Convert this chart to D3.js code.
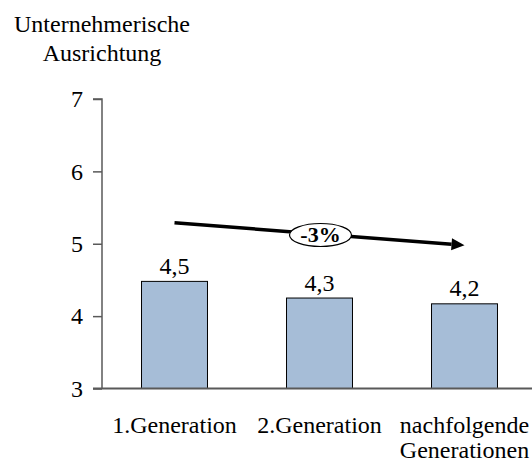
<!DOCTYPE html>
<html>
<head>
<meta charset="utf-8">
<script src="https://cdn.jsdelivr.net/npm/d3@7"></script>
<style>
  html, body { margin: 0; padding: 0; background: #fff; }
  svg { display: block; }
</style>
</head>
<body>
<svg id="chart" width="532" height="462"></svg>
<script>
// ---- data ----
const categories = [["1.Generation"], ["2.Generation"], ["nachfolgende", "Generationen"]];
const values = [4.48, 4.25, 4.17];
const valueLabels = ["4,5", "4,3", "4,2"];
const yTicks = [3, 4, 5, 6, 7];
const yTitle = ["Unternehmerische", "Ausrichtung"];
const trendLabel = "-3%";
const trendFrom = { cat: 0, value: 5.29 };
const trendTo = { cat: 2, value: 4.98 };

const FONT = "Liberation Serif";

// ---- chart ----
const svg = d3.select("#chart");
const x = d3.scaleBand().domain(d3.range(categories.length)).range([102, 537])
  .paddingInner(0.545).paddingOuter(0.2725);
const y = d3.scaleLinear().domain([3, 7]).range([388.5, 99]);

// bars
svg.append("g").selectAll("rect").data(values).join("rect")
  .attr("x", (d, i) => x(i))
  .attr("y", d => y(d))
  .attr("width", x.bandwidth())
  .attr("height", d => y(3) - y(d))
  .attr("fill", "#a6bdd7")
  .attr("stroke", "#000")
  .attr("stroke-width", 1);

// value labels
svg.append("g").selectAll("text").data(values).join("text")
  .attr("x", (d, i) => x(i) + x.bandwidth() / 2)
  .attr("y", d => y(d) - 7.5)
  .attr("text-anchor", "middle")
  .attr("font-family", FONT)
  .attr("font-size", 24)
  .attr("fill", "#000")
  .text((d, i) => valueLabels[i]);

// y axis
const yAxis = d3.axisLeft(y).tickValues(yTicks).tickSize(9).tickPadding(10).tickFormat(d3.format("d"));
const gy = svg.append("g").attr("transform", "translate(102,0)").call(yAxis)
  .attr("font-family", FONT).attr("font-size", 24);
gy.select(".domain").attr("stroke", "#595959").attr("stroke-width", 1.5).attr("d", `M-9,${y(7)}H0V${y(3)}`);
gy.selectAll(".tick line").attr("stroke", "#595959").attr("stroke-width", 1.5);
gy.selectAll(".tick text").attr("font-size", 24).attr("fill", "#000")
  .attr("font-family", FONT);

// x axis baseline
svg.append("line")
  .attr("x1", 93).attr("x2", 532)
  .attr("y1", y(3)).attr("y2", y(3))
  .attr("stroke", "#595959").attr("stroke-width", 2);

// category labels
const cat = svg.append("g").selectAll("text").data(categories).join("text")
  .attr("x", (d, i) => x(i) + x.bandwidth() / 2)
  .attr("y", 433)
  .attr("text-anchor", "middle")
  .attr("font-family", FONT)
  .attr("font-size", 24)
  .attr("fill", "#000");
cat.selectAll("tspan").data((d, i) => d.map(t => ({ t, i }))).join("tspan")
  .attr("x", d => x(d.i) + x.bandwidth() / 2)
  .attr("dy", (d, j) => j === 0 ? 0 : 25)
  .text(d => d.t);

// y title
svg.append("text")
  .attr("x", 102).attr("y", 32)
  .attr("text-anchor", "middle")
  .attr("font-family", FONT)
  .attr("font-size", 24)
  .selectAll("tspan").data(yTitle).join("tspan")
  .attr("x", 102)
  .attr("dy", (d, i) => i === 0 ? 0 : 29)
  .text(d => d);

// trend arrow
const x1 = x(trendFrom.cat) + x.bandwidth() / 2, y1 = y(trendFrom.value);
const x2 = x(trendTo.cat) + x.bandwidth() / 2, y2 = y(trendTo.value);
const ang = Math.atan2(y2 - y1, x2 - x1);
const headLen = 13, headW = 6;
const bx = x2 - headLen * Math.cos(ang), by = y2 - headLen * Math.sin(ang);
svg.append("line")
  .attr("x1", x1).attr("y1", y1).attr("x2", bx).attr("y2", by)
  .attr("stroke", "#000").attr("stroke-width", 3.5);
svg.append("path")
  .attr("d", `M${x2},${y2}L${bx - headW * Math.sin(ang)},${by + headW * Math.cos(ang)}L${bx + headW * Math.sin(ang)},${by - headW * Math.cos(ang)}Z`)
  .attr("fill", "#000");

// label ellipse
const mx = (x1 + x2) / 2 + 1, my = (y1 + y2) / 2 + 1;
svg.append("ellipse")
  .attr("cx", mx).attr("cy", my).attr("rx", 31).attr("ry", 11.5)
  .attr("fill", "#fff").attr("stroke", "#000").attr("stroke-width", 1.2);
svg.append("text")
  .attr("x", mx).attr("y", my + 7.5)
  .attr("text-anchor", "middle")
  .attr("font-family", FONT)
  .attr("font-size", 22).attr("font-weight", "bold")
  .text(trendLabel);
</script>
</body>
</html>
